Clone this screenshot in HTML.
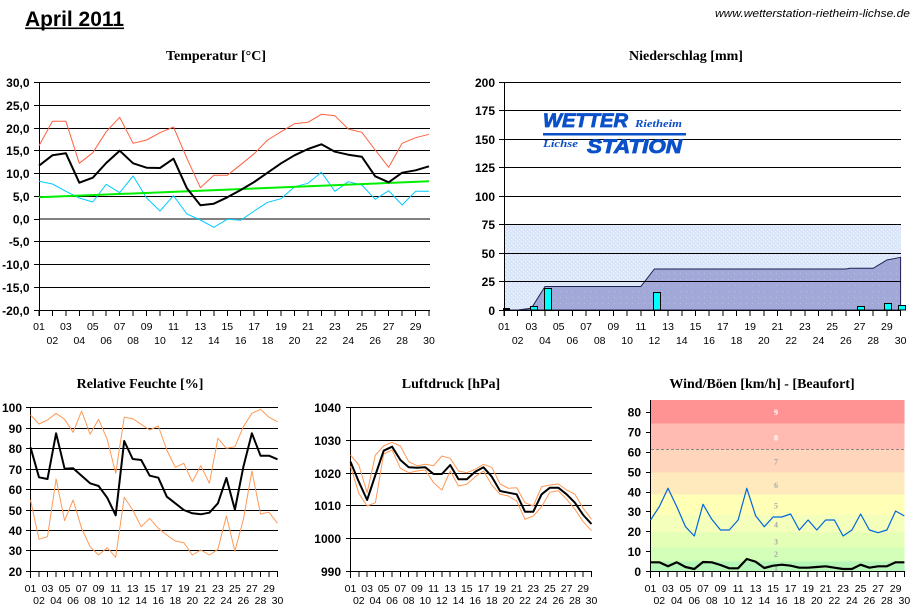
<!DOCTYPE html>
<html><head><meta charset="utf-8"><style>
html,body{margin:0;padding:0;background:#fff;}
svg{display:block;}
</style></head><body>
<svg width="913" height="609" viewBox="0 0 913 609" xmlns="http://www.w3.org/2000/svg">
<rect width="913" height="609" fill="#fff"/>

<!-- Header -->
<text x="25" y="26" font-family="Liberation Sans, sans-serif" font-weight="bold" font-size="21" fill="#000" textLength="99" lengthAdjust="spacingAndGlyphs">April 2011</text>
<rect x="25" y="27.5" width="99" height="1.6" fill="#000"/>
<text x="715" y="17" font-family="Liberation Sans, sans-serif" font-style="italic" font-size="11" fill="#000" textLength="195" lengthAdjust="spacingAndGlyphs">www.wetterstation-rietheim-lichse.de</text>

<!-- Titles -->
<g font-family="Liberation Serif, serif" font-weight="bold" font-size="14" fill="#000" text-anchor="middle">
<text x="216" y="60">Temperatur [°C]</text>
<text x="686" y="60">Niederschlag [mm]</text>
<text x="140" y="388">Relative Feuchte [%]</text>
<text x="451" y="388">Luftdruck [hPa]</text>
<text x="762" y="388">Wind/Böen [km/h] - [Beaufort]</text>
</g>

<!-- ================= TEMPERATURE ================= -->
<g stroke="#000" stroke-width="1" shape-rendering="crispEdges" fill="none">
<path d="M39 82.5H430M39 105.5H430M39 128.5H430M39 150.5H430M39 173.5H430M39 196.5H430M39 241.5H430M39 264.5H430M39 287.5H430M39 310.5H430"/>
<path d="M34 82.5H39M34 105.5H39M34 128.5H39M34 150.5H39M34 173.5H39M34 196.5H39M34 219.5H39M34 241.5H39M34 264.5H39M34 287.5H39M34 310.5H39"/>
<path d="M39.5 82V316"/>
<path d="M39 310v6M52.4 310v6M65.9 310v6M79.3 310v6M92.8 310v6M106.2 310v6M119.7 310v6M133.1 310v6M146.6 310v6M160 310v6M173.5 310v6M186.9 310v6M200.4 310v6M213.8 310v6M227.3 310v6M240.7 310v6M254.2 310v6M267.6 310v6M281.1 310v6M294.5 310v6M308 310v6M321.4 310v6M334.9 310v6M348.3 310v6M361.8 310v6M375.2 310v6M388.7 310v6M402.1 310v6M415.6 310v6M429 310v6"/>
</g>
<path d="M40 219H430" stroke="#808080" stroke-width="2" shape-rendering="crispEdges"/>
<g fill="none" stroke-linejoin="round">
<polyline stroke="#ff6040" stroke-width="1" points="39,145.7 52.4,121.3 65.9,121.3 79.3,163.3 92.8,152.7 106.2,131.7 119.7,117.3 133.1,143.3 146.6,140 160,132.7 173.5,127 186.9,158.3 200.4,187.7 213.8,175.3 227.3,175.3 240.7,164.7 254.2,153.7 267.6,140 281.1,131.7 294.5,123.7 308,122.3 321.4,114.3 334.9,115.7 348.3,129 361.8,132.3 375.2,150 388.7,167.3 402.1,143.3 415.6,137.7 429,134.3"/>
<polyline stroke="#00ccff" stroke-width="1" points="39,181.3 52.4,184 65.9,191.3 79.3,198 92.8,202 106.2,184.3 119.7,192.7 133.1,176 146.6,198 160,211 173.5,195.7 186.9,214 200.4,220 213.8,227.3 227.3,219.3 240.7,220.3 254.2,211 267.6,202.3 281.1,198.7 294.5,186.7 308,183.3 321.4,172.3 334.9,191.3 348.3,181.7 361.8,185 375.2,199.3 388.7,190.7 402.1,205 415.6,191.3 429,191.3"/>
<line x1="39" y1="197.3" x2="429" y2="181.3" stroke="#00ee00" stroke-width="2"/>
<polyline stroke="#000" stroke-width="2" points="39,165.7 52.4,155.3 65.9,153.3 79.3,182.7 92.8,177.7 106.2,163 119.7,150.7 133.1,163.3 146.6,167.7 160,168 173.5,158.7 186.9,188.3 200.4,205.3 213.8,203.7 227.3,197.3 240.7,190 254.2,182 267.6,172.7 281.1,163.3 294.5,155.3 308,149 321.4,144.3 334.9,151.7 348.3,154.7 361.8,156.7 375.2,176.3 388.7,182.3 402.1,172.7 415.6,170.3 429,166.3"/>
</g>
<g font-family="Liberation Sans, sans-serif" font-weight="bold" font-size="12" fill="#000" text-anchor="end">
<text x="29.5" y="86.8">30,0</text><text x="29.5" y="109.8">25,0</text><text x="29.5" y="132.8">20,0</text><text x="29.5" y="154.8">15,0</text><text x="29.5" y="177.8">10,0</text><text x="29.5" y="200.8">5,0</text><text x="29.5" y="223.3">0,0</text><text x="29.5" y="245.8">-5,0</text><text x="29.5" y="268.8">-10,0</text><text x="29.5" y="291.8">-15,0</text><text x="29.5" y="314.8">-20,0</text>
</g>
<g font-family="Liberation Sans, sans-serif" font-size="10.5" fill="#000" text-anchor="middle">
<text x="39" y="330">01</text><text x="65.9" y="330">03</text><text x="92.8" y="330">05</text><text x="119.7" y="330">07</text><text x="146.6" y="330">09</text><text x="173.5" y="330">11</text><text x="200.4" y="330">13</text><text x="227.3" y="330">15</text><text x="254.2" y="330">17</text><text x="281.1" y="330">19</text><text x="308" y="330">21</text><text x="334.9" y="330">23</text><text x="361.8" y="330">25</text><text x="388.7" y="330">27</text><text x="415.6" y="330">29</text>
<text x="52.4" y="344">02</text><text x="79.3" y="344">04</text><text x="106.2" y="344">06</text><text x="133.1" y="344">08</text><text x="160" y="344">10</text><text x="186.9" y="344">12</text><text x="213.8" y="344">14</text><text x="240.7" y="344">16</text><text x="267.6" y="344">18</text><text x="294.5" y="344">20</text><text x="321.4" y="344">22</text><text x="348.3" y="344">24</text><text x="375.2" y="344">26</text><text x="402.1" y="344">28</text><text x="429" y="344">30</text>
</g>

<!-- ================= PRECIPITATION ================= -->
<defs>
<pattern id="dots" width="4" height="4" patternUnits="userSpaceOnUse">
<rect width="4" height="4" fill="#dbe6f8"/>
<rect x="1" y="1" width="1" height="1" fill="#f4f8ff"/>
<rect x="3" y="3" width="1" height="1" fill="#eef4ff"/>
</pattern>
<pattern id="dots2" width="6" height="6" patternUnits="userSpaceOnUse">
<rect width="6" height="6" fill="#a2a9d9"/>
<rect x="2" y="3" width="1" height="1" fill="#b4c0e0"/>
</pattern>
</defs>
<rect x="505" y="224.5" width="396" height="85.5" fill="url(#dots)"/>
<polygon points="504,310 517.7,310 531.4,308.3 545,286.5 640.8,286.5 654.4,269 845.9,269 850,268.3 873.2,268.3 886.9,260 900.6,257.3 900.6,310" fill="url(#dots2)" stroke="#202050" stroke-width="1"/>
<g stroke="#000" stroke-width="1" shape-rendering="crispEdges" fill="none">
<path d="M504 82.5H901M504 110.5H901M504 139.5H901M504 167.5H901M504 196.5H901M504 224.5H901M504 253.5H901M504 281.5H901M504 310.5H901"/>
<path d="M499 82.5H504M499 110.5H504M499 139.5H504M499 167.5H504M499 196.5H504M499 224.5H504M499 253.5H504M499 281.5H504M499 310.5H504"/>
<path d="M504.5 82V316"/>
<path d="M504 310v6M517.7 310v6M531.4 310v6M545 310v6M558.7 310v6M572.4 310v6M586.1 310v6M599.7 310v6M613.4 310v6M627.1 310v6M640.8 310v6M654.4 310v6M668.1 310v6M681.8 310v6M695.5 310v6M709.1 310v6M722.8 310v6M736.5 310v6M750.2 310v6M763.8 310v6M777.5 310v6M791.2 310v6M804.9 310v6M818.5 310v6M832.2 310v6M845.9 310v6M859.6 310v6M873.2 310v6M886.9 310v6M900.6 310v6"/>
</g>
<g fill="#00ffff" stroke="#000" stroke-width="1" shape-rendering="crispEdges">
<rect x="503.5" y="308.5" width="6" height="1.5" fill="#000"/>
<rect x="530.5" y="306.5" width="7" height="3.5"/>
<rect x="544.5" y="288.5" width="7" height="21.5"/>
<rect x="653.5" y="292.5" width="7" height="17.5"/>
<rect x="857.5" y="306.5" width="7" height="3.5"/>
<rect x="884.5" y="303.5" width="7" height="6.5"/>
<rect x="898.5" y="305.5" width="7" height="4.5"/>
</g>
<!-- logo -->
<g fill="#0a50c8">
<text x="543" y="127" font-family="Liberation Sans, sans-serif" font-weight="bold" font-style="italic" font-size="19" stroke="#0a50c8" stroke-width="0.8" textLength="85" lengthAdjust="spacingAndGlyphs">WETTER</text>
<text x="635" y="127" font-family="Liberation Serif, serif" font-weight="bold" font-style="italic" font-size="10" textLength="47" lengthAdjust="spacingAndGlyphs">Rietheim</text>
<rect x="543" y="133" width="143" height="2.5"/>
<text x="543" y="147" font-family="Liberation Serif, serif" font-weight="bold" font-style="italic" font-size="10" textLength="35" lengthAdjust="spacingAndGlyphs">Lichse</text>
<text x="587" y="153" font-family="Liberation Sans, sans-serif" font-weight="bold" font-style="italic" font-size="19" stroke="#0a50c8" stroke-width="0.8" textLength="95" lengthAdjust="spacingAndGlyphs">STATION</text>
</g>
<g font-family="Liberation Sans, sans-serif" font-weight="bold" font-size="12" fill="#000" text-anchor="end">
<text x="495" y="86.8">200</text><text x="495" y="114.8">175</text><text x="495" y="143.8">150</text><text x="495" y="171.8">125</text><text x="495" y="200.8">100</text><text x="495" y="228.8">75</text><text x="495" y="257.8">50</text><text x="495" y="285.8">25</text><text x="495" y="314.8">0</text>
</g>
<g font-family="Liberation Sans, sans-serif" font-size="10.5" fill="#000" text-anchor="middle">
<text x="504" y="330">01</text><text x="531.4" y="330">03</text><text x="558.7" y="330">05</text><text x="586.1" y="330">07</text><text x="613.4" y="330">09</text><text x="640.8" y="330">11</text><text x="668.1" y="330">13</text><text x="695.5" y="330">15</text><text x="722.8" y="330">17</text><text x="750.2" y="330">19</text><text x="777.5" y="330">21</text><text x="804.9" y="330">23</text><text x="832.2" y="330">25</text><text x="859.6" y="330">27</text><text x="886.9" y="330">29</text>
<text x="517.7" y="344">02</text><text x="545" y="344">04</text><text x="572.4" y="344">06</text><text x="599.7" y="344">08</text><text x="627.1" y="344">10</text><text x="654.4" y="344">12</text><text x="681.8" y="344">14</text><text x="709.1" y="344">16</text><text x="736.5" y="344">18</text><text x="763.8" y="344">20</text><text x="791.2" y="344">22</text><text x="818.5" y="344">24</text><text x="845.9" y="344">26</text><text x="873.2" y="344">28</text><text x="900.6" y="344">30</text>
</g>

<!-- ================= HUMIDITY ================= -->
<g stroke="#000" stroke-width="1" shape-rendering="crispEdges" fill="none">
<path d="M30 407.5H278M30 428.5H278M30 448.5H278M30 469.5H278M30 489.5H278M30 510.5H278M30 530.5H278M30 550.5H278M30 571.5H278"/>
<path d="M26 407.5H30M26 428.5H30M26 448.5H30M26 469.5H30M26 489.5H30M26 510.5H30M26 530.5H30M26 550.5H30M26 571.5H30"/>
<path d="M30.5 407V578"/>
<path d="M30.5 571v6M39 571v6M47.5 571v6M56.1 571v6M64.6 571v6M73.1 571v6M81.6 571v6M90.1 571v6M98.6 571v6M107.2 571v6M115.7 571v6M124.2 571v6M132.7 571v6M141.2 571v6M149.7 571v6M158.3 571v6M166.8 571v6M175.3 571v6M183.8 571v6M192.3 571v6M200.8 571v6M209.4 571v6M217.9 571v6M226.4 571v6M234.9 571v6M243.4 571v6M251.9 571v6M260.5 571v6M269 571v6M277.5 571v6"/>
</g>
<g fill="none" stroke-linejoin="round">
<polyline stroke="#ff9955" stroke-width="1" points="30.5,415 39,424 47.5,420 56.1,413.3 64.6,419.3 73.1,432.3 81.6,411 90.1,434.3 98.6,419.3 107.2,439.3 115.7,473.3 124.2,417.3 132.7,418.7 141.2,424.3 149.7,430 158.3,426 166.8,450 175.3,467.3 183.8,463.3 192.3,481.7 200.8,465.7 209.4,483.3 217.9,438.3 226.4,448.3 234.9,446.7 243.4,426.7 251.9,413.3 260.5,409.3 269,417.3 277.5,421.7"/>
<polyline stroke="#ff9955" stroke-width="1" points="30.5,500 39,539.3 47.5,536.7 56.1,479 64.6,520.7 73.1,500 81.6,528.3 90.1,546.7 98.6,555 107.2,547.7 115.7,557.3 124.2,497.3 132.7,510 141.2,526.7 149.7,518.3 158.3,528.3 166.8,535 175.3,541 183.8,542.7 192.3,555 200.8,550 209.4,555 217.9,549.3 226.4,516 234.9,551 243.4,519.3 251.9,471 260.5,514 269,512.3 277.5,523.3"/>
<polyline stroke="#000" stroke-width="2" points="30.5,447.3 39,477.3 47.5,479 56.1,433.3 64.6,468.7 73.1,468.3 81.6,475.7 90.1,483.3 98.6,486 107.2,497.7 115.7,515.3 124.2,441 132.7,459 141.2,460 149.7,475.7 158.3,477.7 166.8,496.7 175.3,503.3 183.8,510 192.3,513.3 200.8,514.3 209.4,512.7 217.9,503.3 226.4,478 234.9,509.7 243.4,466.7 251.9,433.3 260.5,455.7 269,455.7 277.5,459.3"/>
</g>
<g font-family="Liberation Sans, sans-serif" font-weight="bold" font-size="12" fill="#000" text-anchor="end">
<text x="22" y="411.8">100</text><text x="22" y="432.8">90</text><text x="22" y="452.8">80</text><text x="22" y="473.8">70</text><text x="22" y="493.8">60</text><text x="22" y="514.8">50</text><text x="22" y="534.8">40</text><text x="22" y="554.8">30</text><text x="22" y="575.8">20</text>
</g>
<g font-family="Liberation Sans, sans-serif" font-size="10.5" fill="#000" text-anchor="middle">
<text x="30.5" y="592">01</text><text x="47.5" y="592">03</text><text x="64.6" y="592">05</text><text x="81.6" y="592">07</text><text x="98.6" y="592">09</text><text x="115.7" y="592">11</text><text x="132.7" y="592">13</text><text x="149.7" y="592">15</text><text x="166.8" y="592">17</text><text x="183.8" y="592">19</text><text x="200.8" y="592">21</text><text x="217.9" y="592">23</text><text x="234.9" y="592">25</text><text x="251.9" y="592">27</text><text x="269" y="592">29</text>
<text x="39" y="604">02</text><text x="56.1" y="604">04</text><text x="73.1" y="604">06</text><text x="90.1" y="604">08</text><text x="107.2" y="604">10</text><text x="124.2" y="604">12</text><text x="141.2" y="604">14</text><text x="158.3" y="604">16</text><text x="175.3" y="604">18</text><text x="192.3" y="604">20</text><text x="209.4" y="604">22</text><text x="226.4" y="604">24</text><text x="243.4" y="604">26</text><text x="260.5" y="604">28</text><text x="277.5" y="604">30</text>
</g>

<!-- ================= PRESSURE ================= -->
<g stroke="#000" stroke-width="1" shape-rendering="crispEdges" fill="none">
<path d="M350 407.5H592M350 440.5H592M350 473.5H592M350 505.5H592M350 538.5H592M350 571.5H592"/>
<path d="M346 407.5H350M346 440.5H350M346 473.5H350M346 505.5H350M346 538.5H350M346 571.5H350"/>
<path d="M350.5 407V578"/>
<path d="M350.5 571v6M358.8 571v6M367.1 571v6M375.4 571v6M383.7 571v6M392.1 571v6M400.4 571v6M408.7 571v6M417 571v6M425.3 571v6M433.6 571v6M441.9 571v6M450.2 571v6M458.5 571v6M466.8 571v6M475.2 571v6M483.5 571v6M491.8 571v6M500.1 571v6M508.4 571v6M516.7 571v6M525 571v6M533.3 571v6M541.6 571v6M549.9 571v6M558.3 571v6M566.6 571v6M574.9 571v6M583.2 571v6M591.5 571v6"/>
</g>
<g fill="none" stroke-linejoin="round">
<polyline stroke="#ff9955" stroke-width="1" points="350.5,455 358.8,465 367.1,492.7 375.4,455 383.7,446 392.1,442.3 400.4,446 408.7,461.7 417,465.7 425.3,464.3 433.6,465.7 441.9,456 450.2,458.3 458.5,471 466.8,472.7 475.2,469.3 483.5,464.3 491.8,467.3 500.1,484 508.4,488.3 516.7,487.7 525,502.7 533.3,506 541.6,486.7 549.9,485 558.3,484 566.6,490 574.9,494.3 583.2,508.3 591.5,519.3"/>
<polyline stroke="#ff9955" stroke-width="1" points="350.5,466 358.8,493.3 367.1,506 375.4,502.7 383.7,454 392.1,450 400.4,468.3 408.7,472.7 417,471 425.3,470 433.6,482.7 441.9,490 450.2,471 458.5,486 466.8,484.3 475.2,476.7 483.5,471 491.8,485 500.1,494.3 508.4,496 516.7,501 525,519.3 533.3,516 541.6,506.7 549.9,492.3 558.3,490.7 566.6,499.3 574.9,509.3 583.2,521.7 591.5,530.7"/>
<polyline stroke="#000" stroke-width="2" points="350.5,461.7 358.8,481.7 367.1,500 375.4,475 383.7,450.7 392.1,446.7 400.4,460 408.7,467.3 417,467.7 425.3,467.3 433.6,474 441.9,474 450.2,465 458.5,479.3 466.8,479.3 475.2,471.7 483.5,467.3 491.8,476.7 500.1,491 508.4,492.7 516.7,494.3 525,511.7 533.3,511.7 541.6,494.3 549.9,487.7 558.3,487.7 566.6,494.3 574.9,502.7 583.2,515 591.5,524"/>
</g>
<g font-family="Liberation Sans, sans-serif" font-weight="bold" font-size="12" fill="#000" text-anchor="end">
<text x="341" y="411.8">1040</text><text x="341" y="444.8">1030</text><text x="341" y="477.8">1020</text><text x="341" y="509.8">1010</text><text x="341" y="542.8">1000</text><text x="341" y="575.8">990</text>
</g>
<g font-family="Liberation Sans, sans-serif" font-size="10.5" fill="#000" text-anchor="middle">
<text x="350.5" y="592">01</text><text x="367.1" y="592">03</text><text x="383.7" y="592">05</text><text x="400.4" y="592">07</text><text x="417" y="592">09</text><text x="433.6" y="592">11</text><text x="450.2" y="592">13</text><text x="466.8" y="592">15</text><text x="483.5" y="592">17</text><text x="500.1" y="592">19</text><text x="516.7" y="592">21</text><text x="533.3" y="592">23</text><text x="549.9" y="592">25</text><text x="566.6" y="592">27</text><text x="583.2" y="592">29</text>
<text x="358.8" y="604">02</text><text x="375.4" y="604">04</text><text x="392.1" y="604">06</text><text x="408.7" y="604">08</text><text x="425.3" y="604">10</text><text x="441.9" y="604">12</text><text x="458.5" y="604">14</text><text x="475.2" y="604">16</text><text x="491.8" y="604">18</text><text x="508.4" y="604">20</text><text x="525" y="604">22</text><text x="541.6" y="604">24</text><text x="558.3" y="604">26</text><text x="574.9" y="604">28</text><text x="591.5" y="604">30</text>
</g>

<!-- ================= WIND ================= -->
<g shape-rendering="crispEdges">
<rect x="650.5" y="400" width="254" height="23.3" fill="#ff9393"/>
<rect x="650.5" y="423.3" width="254" height="26" fill="#ffbbb2"/>
<rect x="650.5" y="449.3" width="254" height="23.4" fill="#ffd6bc"/>
<rect x="650.5" y="472.7" width="254" height="22" fill="#ffeabd"/>
<rect x="650.5" y="494.7" width="254" height="20.3" fill="#ffffb6"/>
<rect x="650.5" y="515" width="254" height="17.7" fill="#f4ffbb"/>
<rect x="650.5" y="532.7" width="254" height="14.6" fill="#e4ffb6"/>
<rect x="650.5" y="547.3" width="254" height="14.4" fill="#d4ffb9"/>
<rect x="650.5" y="561.7" width="254" height="10" fill="#b6f6b6"/>
</g>
<line x1="651" y1="449.5" x2="904" y2="449.5" stroke="#888" stroke-width="1" stroke-dasharray="3,2"/>
<g font-family="Liberation Serif, serif" font-weight="bold" font-size="8" text-anchor="middle">
<text x="776" y="415" fill="#fff">9</text>
<text x="776" y="440.5" fill="#fff">8</text>
<text x="776" y="464.5" fill="#aaa">7</text>
<text x="776" y="488" fill="#aaa">6</text>
<text x="776" y="508.5" fill="#aaa">5</text>
<text x="776" y="527.5" fill="#aaa">4</text>
<text x="776" y="544.5" fill="#aaa">3</text>
<text x="776" y="557" fill="#aaa">2</text>
<text x="776" y="571" fill="#aaa">1</text>
</g>
<g stroke="#000" stroke-width="1" shape-rendering="crispEdges" fill="none">
<path d="M646 412.5H650M646 432.5H650M646 452.5H650M646 472.5H650M646 492.5H650M646 511.5H650M646 531.5H650M646 551.5H650M646 571.5H650"/>
<path d="M650.5 400V578"/>
<path d="M650 571.5H905"/>
<path d="M650.5 571v6M659.3 571v6M668 571v6M676.8 571v6M685.5 571v6M694.3 571v6M703 571v6M711.8 571v6M720.5 571v6M729.3 571v6M738.1 571v6M746.8 571v6M755.6 571v6M764.3 571v6M773.1 571v6M781.8 571v6M790.6 571v6M799.3 571v6M808.1 571v6M816.8 571v6M825.6 571v6M834.4 571v6M843.1 571v6M851.9 571v6M860.6 571v6M869.4 571v6M878.1 571v6M886.9 571v6M895.6 571v6M904.4 571v6"/>
</g>
<g fill="none" stroke-linejoin="round">
<polyline stroke="#0066e0" stroke-width="1.2" points="650.5,520 659.3,506.7 668,488.3 676.8,506.7 685.5,526.7 694.3,536 703,504.3 711.8,519.3 720.5,530 729.3,530 738.1,520 746.8,488.3 755.6,515.7 764.3,526.7 773.1,517 781.8,517 790.6,514 799.3,530 808.1,520 816.8,530 825.6,520 834.4,520 843.1,536 851.9,530 860.6,514 869.4,530 878.1,532.7 886.9,530 895.6,511 904.4,516"/>
<polyline stroke="#000" stroke-width="2.2" points="650.5,562.3 659.3,562.3 668,566.3 676.8,562.3 685.5,567 694.3,569 703,562 711.8,562.3 720.5,565 729.3,568.3 738.1,568.3 746.8,559 755.6,561.7 764.3,568 773.1,565.7 781.8,564.7 790.6,565.7 799.3,567.7 808.1,567.7 816.8,567 825.6,566.3 834.4,567.7 843.1,569 851.9,569 860.6,564.7 869.4,567.7 878.1,566.3 886.9,566.3 895.6,562.3 904.4,562.3"/>
</g>
<g font-family="Liberation Sans, sans-serif" font-weight="bold" font-size="12" fill="#000" text-anchor="end">
<text x="641" y="416.6">80</text><text x="641" y="436.5">70</text><text x="641" y="456.4">60</text><text x="641" y="476.3">50</text><text x="641" y="496.3">40</text><text x="641" y="516.2">30</text><text x="641" y="536">20</text><text x="641" y="556">10</text><text x="641" y="576">0</text>
</g>
<g font-family="Liberation Sans, sans-serif" font-size="10.5" fill="#000" text-anchor="middle">
<text x="650.5" y="592">01</text><text x="668" y="592">03</text><text x="685.5" y="592">05</text><text x="703" y="592">07</text><text x="720.5" y="592">09</text><text x="738.1" y="592">11</text><text x="755.6" y="592">13</text><text x="773.1" y="592">15</text><text x="790.6" y="592">17</text><text x="808.1" y="592">19</text><text x="825.6" y="592">21</text><text x="843.1" y="592">23</text><text x="860.6" y="592">25</text><text x="878.1" y="592">27</text><text x="895.6" y="592">29</text>
<text x="659.3" y="604">02</text><text x="676.8" y="604">04</text><text x="694.3" y="604">06</text><text x="711.8" y="604">08</text><text x="729.3" y="604">10</text><text x="746.8" y="604">12</text><text x="764.3" y="604">14</text><text x="781.8" y="604">16</text><text x="799.3" y="604">18</text><text x="816.8" y="604">20</text><text x="834.4" y="604">22</text><text x="851.9" y="604">24</text><text x="869.4" y="604">26</text><text x="886.9" y="604">28</text><text x="904.4" y="604">30</text>
</g>
</svg>
</body></html>
